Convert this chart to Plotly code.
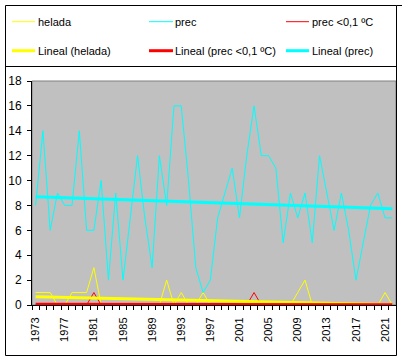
import numpy as np
import plotly.graph_objects as go

years = list(range(1973, 2023))
prec = [8, 14, 6, 9, 8, 8, 14, 6, 6, 10,
        2, 9, 2, 7, 12, 7, 3, 12, 8, 16,
        16, 10, 3, 1, 2, 7, 9, 11, 7, 12,
        16, 12, 12, 11, 5, 9, 7, 9, 5, 12,
        9, 6, 9, 6, 2, 5, 8, 9, 7, 7]
helada = [1, 1, 1, 0, 0, 1, 1, 1, 3, 0,
          0, 0, 0, 0, 0, 0, 0, 0, 2, 0,
          1, 0, 0, 1, 0, 0, 0, 0, 0, 0,
          0, 0, 0, 0, 0, 0, 1, 2, 0, 0,
          0, 0, 0, 0, 0, 0, 0, 0, 1, 0]
prec01 = [0, 0, 0, 0, 0, 0, 0, 0, 1, 0,
          0, 0, 0, 0, 0, 0, 0, 0, 0, 0,
          0, 0, 0, 0, 0, 0, 0, 0, 0, 0,
          1, 0, 0, 0, 0, 0, 0, 0, 0, 0,
          0, 0, 0, 0, 0, 0, 0, 0, 0, 0]
tick_years = years[::4]

names = ["helada", "prec", "prec <0,1 ºC",
         "Lineal (helada)", "Lineal (prec <0,1 ºC)", "Lineal (prec)"]
YEL, CYA, RED = "#FFFF00", "#00FFFF", "#FF0000"

def trend(vals):
    idx = np.arange(1, len(vals) + 1)
    a, b = np.polyfit(idx, vals, 1)
    return list(a * idx + b)

fig = go.Figure()
fig.add_trace(go.Scatter(x=years, y=helada, mode="lines", line=dict(color=YEL, width=1), name=names[0]))
fig.add_trace(go.Scatter(x=years, y=prec, mode="lines", line=dict(color=CYA, width=1), name=names[1]))
fig.add_trace(go.Scatter(x=years, y=prec01, mode="lines", line=dict(color=RED, width=1), name=names[2]))
fig.add_trace(go.Scatter(x=years, y=trend(helada), mode="lines", line=dict(color=YEL, width=3), name=names[3]))
fig.add_trace(go.Scatter(x=years, y=trend(prec01), mode="lines", line=dict(color=RED, width=3), name=names[4]))
fig.add_trace(go.Scatter(x=years, y=trend(prec), mode="lines", line=dict(color=CYA, width=3), name=names[5]))

W, H = 402, 360
L, R, T, B = 32, 396, 81, 305

def px(x):
    return (x - L) / (R - L)

def py(y):
    return (B - y) / (B - T)

FONT = "Liberation Sans, Arial, sans-serif"
shapes = []
annots = []

# plot area border
shapes.append(dict(type="rect", xref="paper", yref="paper", x0=0, x1=1, y0=0, y1=1,
                   line=dict(color="#808080", width=1), layer="below"))
# chart border and legend separator
shapes.append(dict(type="rect", xref="paper", yref="paper", x0=px(5.5), x1=px(396.5), y0=py(5.5), y1=py(355.5),
                   line=dict(color="black", width=1)))
shapes.append(dict(type="line", xref="paper", yref="paper", x0=px(5.5), x1=px(396.5), y0=py(66.5), y1=py(66.5),
                   line=dict(color="black", width=1)))
shapes.append(dict(type="line", xref="paper", yref="paper", x0=px(396.5), x1=px(402), y0=py(5.5), y1=py(5.5),
                   line=dict(color="black", width=1)))

# legend
cols = [(12, 35, 37), (149, 173, 174), (286, 309, 311)]
rows = [21.7, 50.7]
entries = [(0, 0, YEL, 1), (0, 1, CYA, 1), (0, 2, RED, 1),
           (1, 0, YEL, 3), (1, 1, RED, 3), (1, 2, CYA, 3)]
for k, (r, c, col, w) in enumerate(entries):
    x0, x1, xt = cols[c]
    yy = rows[r]
    shapes.append(dict(type="line", xref="paper", yref="paper", x0=px(x0), x1=px(x1), y0=py(yy), y1=py(yy),
                       line=dict(color=col, width=w)))
    annots.append(dict(xref="paper", yref="paper", x=px(xt), y=py(yy), text=names[k], showarrow=False,
                       xanchor="left", yanchor="middle", borderpad=0,
                       font=dict(family=FONT, size=11, color="black")))

fig.update_layout(
    width=W, height=H,
    margin=dict(l=L, r=W - R, t=T, b=H - B, pad=0),
    paper_bgcolor="white", plot_bgcolor="#C0C0C0",
    showlegend=False,
    shapes=shapes, annotations=annots,
    xaxis=dict(range=[1972.5, 2022.5], tickmode="array", tickvals=tick_years,
               ticktext=[str(y) for y in tick_years], tickangle=-90,
               ticks="outside", ticklen=7, tickcolor="rgba(0,0,0,0)",
               minor=dict(ticks="outside", ticklen=4, tickcolor="black", tickmode="array",
                          tickvals=[y - 0.5 for y in years] + [years[-1] + 0.5], showgrid=False),
               showline=True, linecolor="black", linewidth=1, showgrid=False, zeroline=False,
               tickfont=dict(family=FONT, size=11, color="black")),
    yaxis=dict(range=[0, 18], dtick=2, tick0=0, ticks="outside", ticklen=4, tickcolor="black",
               ticklabelstandoff=3,
               showline=True, linecolor="black", linewidth=1, showgrid=False, zeroline=False,
               tickfont=dict(family=FONT, size=12, color="black")),
)

fig.write_html("out.html", config={"displayModeBar": False},
               post_script="document.body.style.margin='0';document.body.style.padding='0';")
